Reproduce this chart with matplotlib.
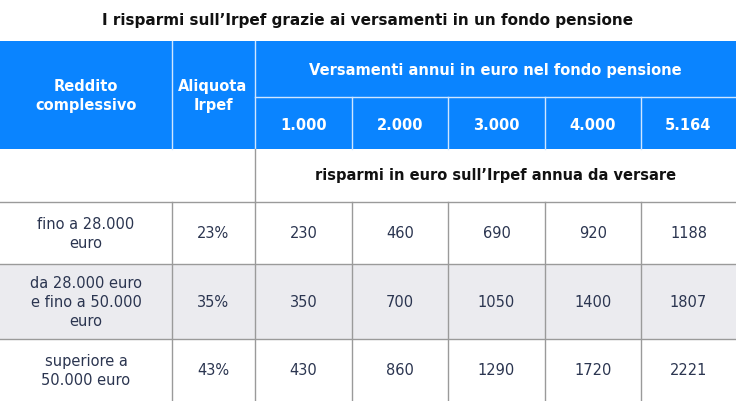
import matplotlib.pyplot as plt
from matplotlib.patches import Rectangle

title = "I risparmi sull’Irpef grazie ai versamenti in un fondo pensione"
versamenti = ["1.000", "2.000", "3.000", "4.000", "5.164"]
redditi = ["fino a 28.000\neuro", "da 28.000 euro\ne fino a 50.000\neuro", "superiore a\n50.000 euro"]
aliquote = ["23%", "35%", "43%"]
risparmi = [
    [230, 460, 690, 920, 1188],
    [350, 700, 1050, 1400, 1807],
    [430, 860, 1290, 1720, 2221],
]

W, H = 736, 402
cols = [0, 172, 255, 352, 448, 545, 641, 736]
rows = [203, 265, 340, 402]
BLUE = "#0a84ff"
TXT = "#2b3550"
LINE = "#9a9a9a"

fig = plt.figure(figsize=(W / 100, H / 100), dpi=100)
ax = fig.add_axes([0, 0, 1, 1])
ax.set_xlim(0, W)
ax.set_ylim(H, 0)
ax.axis("off")

ax.text(W / 2, 20, title, ha="center", va="center", fontsize=11, fontweight="bold", color="#111111")

# blue header
ax.add_patch(Rectangle((0, 42), W, 108, color=BLUE, lw=0))
wl = dict(color="#d0e6ff", lw=1)
ax.plot([172, 172], [42, 150], **wl)
ax.plot([255, 255], [42, 150], **wl)
ax.plot([255, W], [98, 98], **wl)
for x in cols[3:-1]:
    ax.plot([x, x], [98, 150], **wl)
hk = dict(ha="center", va="center", color="white", fontweight="bold", fontsize=10.5)
ax.text(86, 96, "Reddito\ncomplessivo", linespacing=1.4, **hk)
ax.text(213, 96, "Aliquota\nIrpef", linespacing=1.4, **hk)
ax.text((255 + W) / 2, 71, "Versamenti annui in euro nel fondo pensione", **hk)
for i, v in enumerate(versamenti):
    ax.text((cols[i + 2] + cols[i + 3]) / 2, 125, v, **hk)

# subheader row
ax.text((255 + W) / 2, 176, "risparmi in euro sull’Irpef annua da versare",
        ha="center", va="center", fontsize=10.5, fontweight="bold", color="#111111")
ax.plot([255, 255], [150, 203], color=LINE, lw=1)

# data rows
ax.add_patch(Rectangle((0, rows[1]), W, rows[2] - rows[1], color="#ebebef", lw=0))
for y in rows[:-1]:
    ax.plot([0, W], [y, y], color=LINE, lw=1)
for x in cols[1:-1]:
    ax.plot([x, x], [203, H], color=LINE, lw=1)
dk = dict(ha="center", va="center", color=TXT, fontsize=10.5)
for r in range(3):
    yc = (rows[r] + rows[r + 1]) / 2
    ax.text(86, yc, redditi[r], linespacing=1.35, **dk)
    ax.text(213, yc, aliquote[r], **dk)
    for c in range(5):
        ax.text((cols[c + 2] + cols[c + 3]) / 2, yc, str(risparmi[r][c]), **dk)

fig.savefig("out.png", dpi=100)
